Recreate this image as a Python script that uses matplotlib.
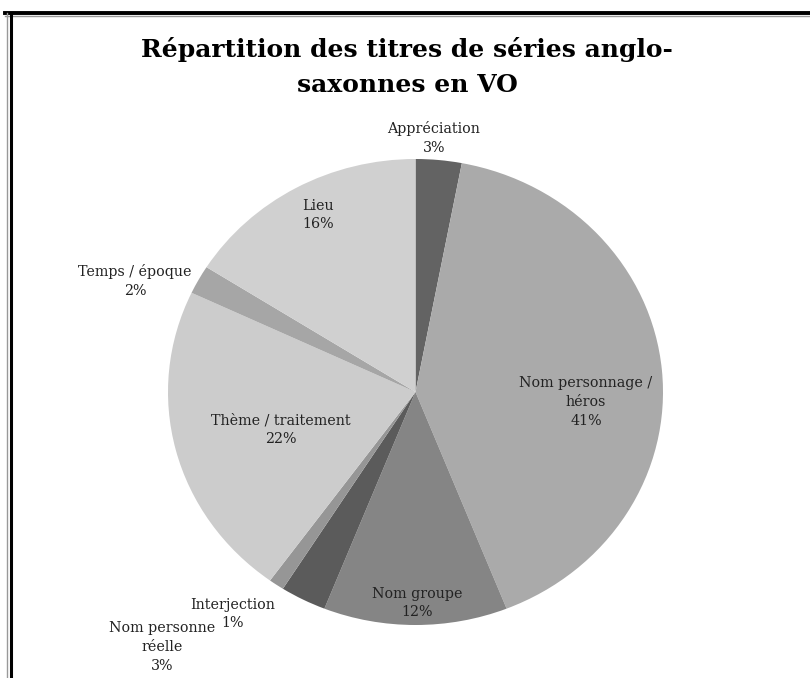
import matplotlib
matplotlib.use("Agg")
import matplotlib.pyplot as plt
from matplotlib.lines import Line2D

categories = ["Appréciation", "Nom personnage /\nhéros", "Nom groupe",
              "Nom personne\nréelle", "Interjection", "Thème / traitement",
              "Temps / époque", "Lieu"]
values = [3, 41, 12, 3, 1, 22, 2, 16]
colors = ["#636363", "#aaaaaa", "#858585", "#5b5b5b", "#969696",
          "#cccccc", "#a6a6a6", "#d0d0d0"]

W, H = 810, 678
fig = plt.figure(figsize=(W / 100, H / 100), dpi=100)

def px(x0, y0, x1, y1):
    return [x0 / W, 1 - y1 / H, (x1 - x0) / W, (y1 - y0) / H]

ax = fig.add_axes(px(168, 159, 663, 625))
wedges, _ = ax.pie(values, colors=colors, startangle=90, counterclock=False,
                   radius=1, wedgeprops=dict(linewidth=0))
ax.set_aspect("auto")
ax.set_xlim(-1, 1)
ax.set_ylim(-1, 1)

font = "DejaVu Serif"
fs = 10.3

def to_data(x, y):
    cx, cy, rx, ry = 415.5, 392, 247.5, 233
    return (x - cx) / rx, (cy - y) / ry

label_px = [(434, 138), (586, 402), (417, 603), (162, 647), (233, 614),
            (281, 430), (135, 281), (318, 215)]
for cat, v, (x, y) in zip(categories, values, label_px):
    dx, dy = to_data(x, y)
    ax.text(dx, dy, f"{cat}\n{v}%", ha="center", va="center",
            fontsize=fs, family=font, color="#222222",
            linespacing=1.45, clip_on=False)

fig.text(407 / W, 1 - 67 / H, "Répartition des titres de séries anglo-\nsaxonnes en VO",
         ha="center", va="center", fontsize=18, fontweight="bold",
         family=font, linespacing=1.6)

# frame lines
fig.add_artist(Line2D([5 / W, 1], [1 - 13 / H, 1 - 13 / H], color="black", lw=2.8))
fig.add_artist(Line2D([5 / W, 1], [1 - 15.5 / H, 1 - 15.5 / H], color="#999999", lw=1))
fig.add_artist(Line2D([7 / W, 7 / W], [0, 1 - 13 / H], color="#999999", lw=1))
fig.add_artist(Line2D([10.5 / W, 10.5 / W], [0, 1 - 13 / H], color="black", lw=2.2))

fig.savefig("out.png", dpi=100)
